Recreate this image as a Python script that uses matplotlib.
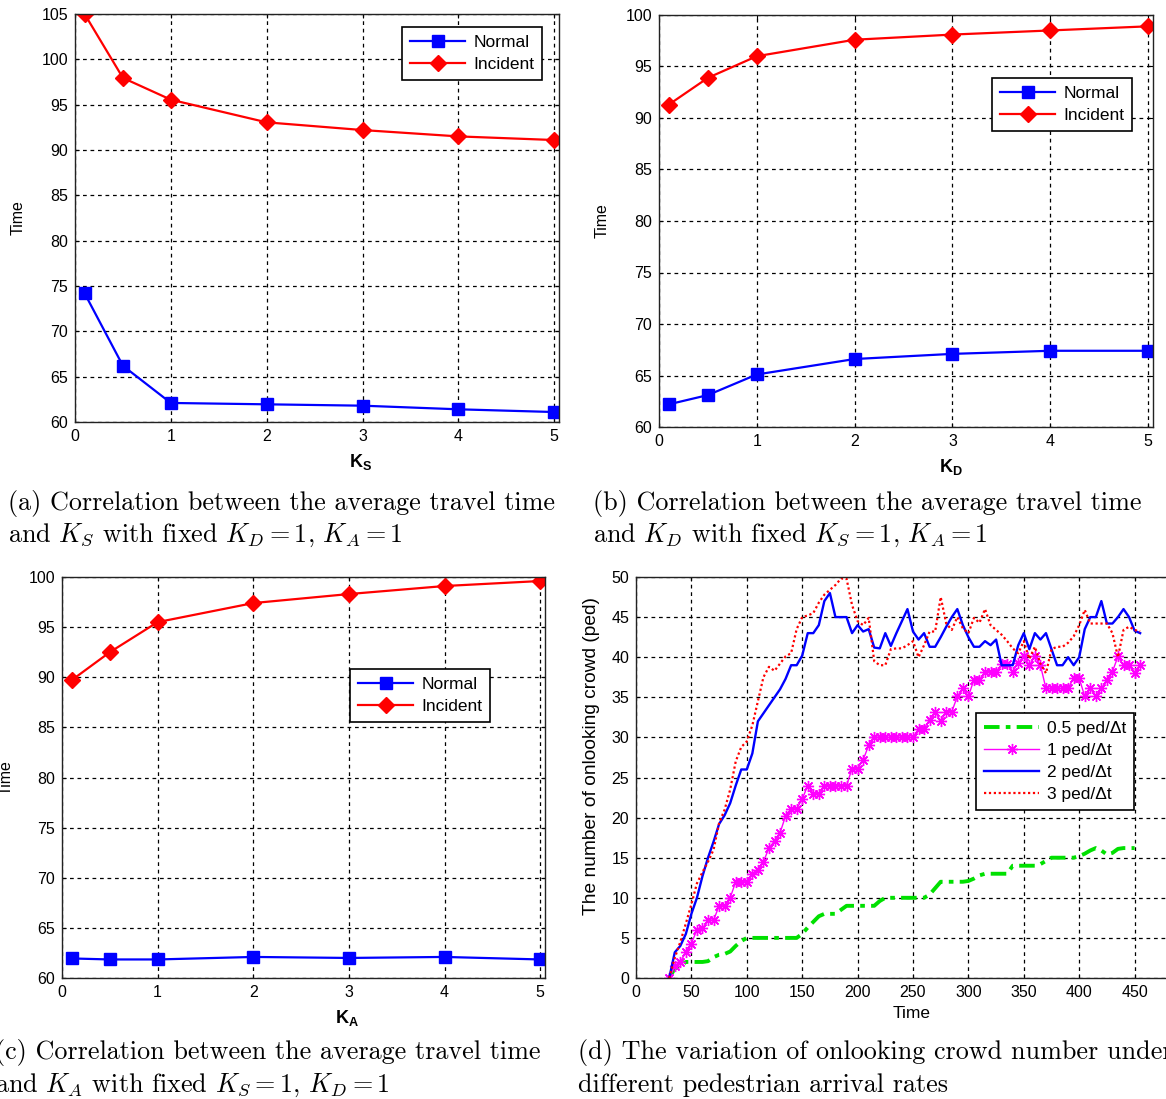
import matplotlib
matplotlib.use('Agg')
import matplotlib.pyplot as plt

plt.rcParams['font.family'] = ['Liberation Sans', 'DejaVu Sans']
plt.rcParams['mathtext.fontset'] = 'custom'
plt.rcParams['mathtext.rm'] = 'Liberation Sans'
plt.rcParams['mathtext.bf'] = 'Liberation Sans:bold'
plt.rcParams['mathtext.it'] = 'Liberation Sans:italic'
plt.rcParams['axes.formatter.use_mathtext'] = False

W, H = 1166, 1099

# panels a-c: average travel time vs K parameter
k_vals = [0.1, 0.5, 1, 2, 3, 4, 5]
ks_normal = [74.2, 66.2, 62.1, 61.95, 61.8, 61.4, 61.1]
ks_incident = [105, 97.95, 95.55, 93.05, 92.2, 91.5, 91.1]
kd_normal = [62.2, 63.1, 65.1, 66.6, 67.1, 67.4, 67.4]
kd_incident = [91.3, 93.9, 96.0, 97.6, 98.1, 98.5, 98.9]
ka_normal = [61.95, 61.85, 61.85, 62.1, 62.0, 62.1, 61.85]
ka_incident = [89.7, 92.5, 95.5, 97.4, 98.3, 99.1, 99.6]

# panel d: onlooking crowd over time
t_d = [30, 35, 40, 45, 50, 55, 60, 65, 70, 75,
       80, 85, 90, 95, 100, 105, 110, 115, 120, 125,
       130, 135, 140, 145, 150, 155, 160, 165, 170, 175,
       180, 185, 190, 195, 200, 205, 210, 215, 220, 225,
       230, 235, 240, 245, 250, 255, 260, 265, 270, 275,
       280, 285, 290, 295, 300, 305, 310, 315, 320, 325,
       330, 335, 340, 345, 350, 355, 360, 365, 370, 375,
       380, 385, 390, 395, 400, 405, 410, 415, 420, 425,
       430, 435, 440, 445, 450, 455]
rate_05 = [0, 1.2, 1.5, 2, 2, 2, 2, 2.1, 2.6, 2.9,
           3, 3.3, 4, 4.6, 5, 5, 5, 5, 5, 5,
           5, 5, 5, 5, 5.5, 6.3, 7, 7.7, 8, 8,
           8, 8.5, 9, 9, 9, 9, 9, 9, 9.6, 10,
           10, 10, 10, 10, 10, 10, 10, 10.4, 11.2, 12,
           12, 12, 12, 12, 12.1, 12.4, 12.8, 13, 13, 13,
           13, 13, 14, 14, 14, 14, 14, 14.2, 14.6, 15,
           15, 15, 15, 15, 15.2, 15.5, 15.9, 16.2, 15.9, 15.4,
           15.6, 16.1, 16.2, 16.2, 16.2]
rate_1 = [0, 1.5, 2, 3.2, 4.3, 6, 6.2, 7.2, 7.2, 9,
          9, 10, 12, 12, 12, 13, 13.5, 14.5, 16.2, 17.1,
          18.1, 20.2, 21.1, 21.1, 22.3, 24, 23, 23, 24, 24,
          24, 24, 24, 26.1, 26.1, 27.2, 29, 30, 30, 30,
          30, 30, 30, 30, 30, 31.1, 31.1, 32.2, 33.2, 32,
          33.2, 33.2, 35.1, 36.1, 35.1, 37.2, 37.2, 38.2, 38.2, 38.2,
          39.1, 39.1, 38.2, 39.3, 40.1, 39, 40.1, 39, 36.1, 36.1,
          36.1, 36.1, 36.1, 37.4, 37.4, 35.1, 36.1, 35.1, 36.1, 37.2,
          38.2, 40.1, 39, 39, 38, 39]
rate_2 = [0, 3.2, 4, 5.5, 8, 10, 12.7, 15, 17, 19.2,
          20.3, 21.8, 24, 26, 26, 28, 32, 33, 34, 35,
          36, 37.3, 39, 39, 40.2, 43, 43, 44, 47, 48,
          45, 45, 45, 43, 44, 43.2, 43.5, 41.2, 41.1, 43,
          41.4, 43, 44.5, 46, 43.2, 42.2, 43, 41.3, 41.3, 42.5,
          43.8, 45, 46, 44, 42.5, 41.3, 41.3, 42, 41.5, 42.2,
          39, 39, 39, 41.5, 43, 41, 43, 42.2, 43, 41,
          39, 39, 40, 39, 40, 43.5, 45, 45, 47, 44.2,
          44.2, 45, 46, 45, 43.3, 43]
rate_3 = [0, 2.5, 4.5, 6.8, 9.2, 11.8, 13.2, 14.5, 16, 19.3,
          21, 23.5, 27, 28.8, 29.5, 31.5, 34.5, 37.5, 38.8, 38.3,
          39.2, 40.1, 40.5, 43.5, 45, 45.2, 45.5, 46.8, 47.8, 48.4,
          49, 49.8, 49.8, 46.5, 44.5, 44, 44.9, 39.5, 39, 39,
          41, 41.1, 41.1, 41.5, 42, 40, 41.5, 43.2, 43.2, 47.5,
          44.2, 43.4, 45, 43.6, 43, 44.9, 44.3, 46, 44, 43.4,
          42.8, 42, 41.1, 40.5, 42, 39.8, 41.3, 39.2, 38, 41,
          41.3, 41.3, 41.8, 42.6, 44, 45.9, 44.2, 44.2, 44.2, 44.2,
          43, 40, 43.4, 43.8, 43.4, 43.2]


def px_axes(left, top, right, bottom):
    return fig.add_axes([left / W, 1 - bottom / H, (right - left) / W, (bottom - top) / H])


def style_axes(ax):
    ax.grid(True, color='k', linestyle=(0, (3, 3)), linewidth=0.9)
    ax.tick_params(direction='in', length=3, labelsize=11.5, top=True, right=True, pad=5)
    for s in ax.spines.values():
        s.set_linewidth(1.0)
        s.set_color('#222222')


def legend_at(ax, left, top, fs=12.5, hl=3.2):
    leg = ax.legend(loc='upper left', bbox_to_anchor=(left / W, 1 - top / H),
                    bbox_transform=fig.transFigure, borderaxespad=0, fontsize=fs,
                    fancybox=False, framealpha=1, edgecolor='k', handlelength=hl,
                    handletextpad=0.45, labelspacing=0.4, borderpad=0.45)
    leg.get_frame().set_linewidth(1.2)
    return leg


fig = plt.figure(figsize=(W / 100, H / 100), dpi=100)

k_panels = [
    ((75, 14, 559, 422), ks_normal, ks_incident, (60, 105), 'S', (402, 27), 18),
    ((659, 15, 1153, 427), kd_normal, kd_incident, (60, 100), 'D', (992, 78), 602),
    ((62, 577, 545, 978), ka_normal, ka_incident, (60, 100), 'A', (350, 669), 6),
]
for (l, t, r, b), normal, incident, ylim, sub, (lx, ly), ylab_x in k_panels:
    ax = px_axes(l, t, r, b)
    ax.plot(k_vals, normal, color='b', lw=1.6, marker='s', ms=9, label='Normal')
    ax.plot(k_vals, incident, color='r', lw=1.6, marker='D', ms=8, label='Incident')
    ax.set_xlim(0, 5.05)
    ax.set_ylim(*ylim)
    ax.set_xticks([0, 1, 2, 3, 4, 5])
    ax.set_yticks(range(ylim[0], ylim[1] + 1, 5))
    style_axes(ax)
    ax.set_xlabel(r'$\mathbf{K}_\mathbf{%s}$' % sub, fontsize=13)
    ax.xaxis.set_label_coords(0.59, -40 / (b - t), transform=ax.transAxes)
    ax.xaxis.label.set_va('center')
    ax.set_ylabel('Time', fontsize=11.5, va='center')
    ax.yaxis.set_label_coords(-(l - ylab_x) / (r - l), 0.5)
    legend_at(ax, lx, ly)

# panel d
l, t, r, b = 636, 577, 1190, 978
ax = px_axes(l, t, r, b)
ax.plot(t_d[:len(rate_05)], rate_05, color='#00e000', lw=2.8, linestyle=(0, (4, 1.6, 1.2, 1.6)),
        label='0.5 ped/\u0394t')
ax.plot(t_d, rate_1, color='#ff00ff', lw=1.0, marker=(8, 2, 0), ms=8, mew=1.0,
        label='1 ped/\u0394t')
ax.plot(t_d, rate_2, color='b', lw=1.7, label='2 ped/\u0394t')
ax.plot(t_d, rate_3, color='r', lw=1.6, linestyle=(0, (1, 1.2)), label='3 ped/\u0394t')
ax.set_xlim(0, 500)
ax.set_ylim(0, 50)
ax.set_xticks(range(0, 451, 50))
ax.set_yticks(range(0, 51, 5))
style_axes(ax)
ax.set_xlabel('Time', fontsize=12.5)
ax.xaxis.set_label_coords((912 - l) / (r - l), -35 / (b - t))
ax.xaxis.label.set_va('center')
ax.set_ylabel('The number of onlooking crowd (ped)', fontsize=13.8, va='center')
ax.yaxis.set_label_coords(-(l - 592) / (r - l), 0.5 - ((756 - (t + b) / 2) / (b - t)))
legend_at(ax, 976, 713, fs=12.5, hl=3.2)

# captions
cap_kw = dict(fontsize=18.8, family='cmr10', math_fontfamily='cm', va='center', ha='left')
captions = [
    (8, 503, '(a) Correlation between the average travel time',
     r'and $K_S$ with fixed $K_D = 1$, $K_A = 1$'),
    (593, 503, '(b) Correlation between the average travel time',
     r'and $K_D$ with fixed $K_S = 1$, $K_A = 1$'),
    (-5, 1053, '(c) Correlation between the average travel time',
     r'and $K_A$ with fixed $K_S = 1$, $K_D = 1$'),
    (578, 1053, '(d) The variation of onlooking crowd number under',
     'different pedestrian arrival rates'),
]
for x0, y0, line1, line2 in captions:
    fig.text(x0 / W, 1 - y0 / H, line1, **cap_kw)
    fig.text(x0 / W, 1 - (y0 + 32) / H, line2, **cap_kw)

fig.savefig('out.png', dpi=100)
